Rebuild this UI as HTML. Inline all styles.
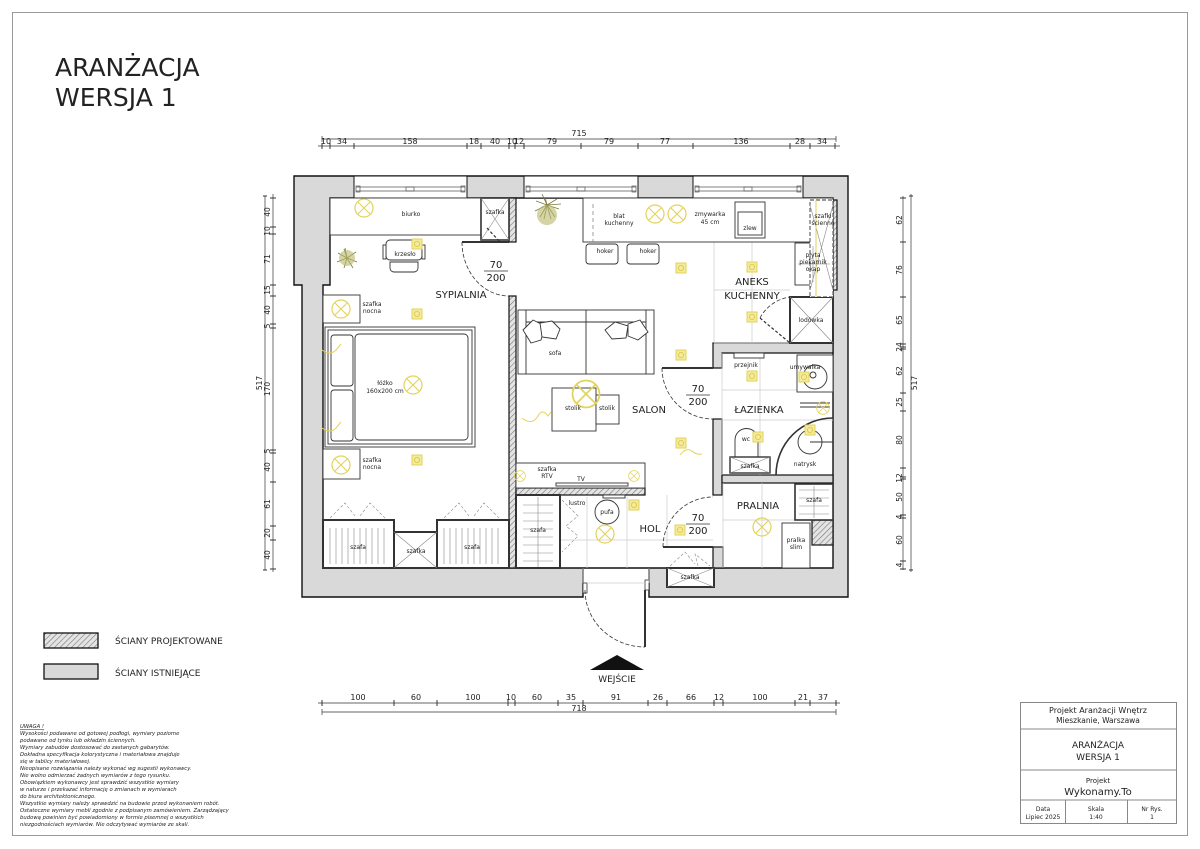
<!DOCTYPE html>
<html><head><meta charset="utf-8"><style>
html,body{margin:0;padding:0;background:#fff}
svg{display:block}
text{font-family:"DejaVu Sans","Liberation Sans",sans-serif;fill:#222}
</style></head><body>
<svg width="1200" height="849" viewBox="0 0 1200 849" xmlns="http://www.w3.org/2000/svg">
<defs>
<pattern id="h" width="4" height="4" patternUnits="userSpaceOnUse" patternTransform="rotate(45)">
<rect width="4" height="4" fill="#e4e4e4"/><line x1="0" y1="0" x2="0" y2="4" stroke="#777" stroke-width="1.2"/>
</pattern>
<g id="L"><circle r="9" fill="none" stroke="#e3d35a" stroke-width="1.2"/><path d="M-6.4,-6.4L6.4,6.4M-6.4,6.4L6.4,-6.4" stroke="#e3d35a" stroke-width="1.1"/></g>
<g id="S"><rect x="-5" y="-5" width="10" height="10" fill="#f3ea9c" stroke="#e3d35a"/><circle r="2.6" fill="none" stroke="#d8c848" stroke-width=".8"/></g>
</defs>
<rect x="12.5" y="12.5" width="1175" height="823" fill="none" stroke="#999" stroke-width="1"/>
<text x="55" y="76" font-size="25">ARANŻACJA</text>
<text x="55" y="106" font-size="25">WERSJA 1</text>

<!-- top dims -->
<g stroke="#333" stroke-width=".7">
<line x1="322" y1="139" x2="836" y2="139"/><line x1="318" y1="146" x2="840" y2="146"/>
<line x1="322" y1="136" x2="322" y2="142"/><line x1="836" y1="136" x2="836" y2="142"/>
</g>
<g stroke="#333" stroke-width="1">
<path d="M322,143v6M330,143v6M354,143v6M467,143v6M481,143v6M509,143v6M515,143v6M524,143v6M581,143v6M638,143v6M693,143v6M790,143v6M810,143v6M835,143v6"/>
</g>
<g font-size="8" text-anchor="middle">
<text x="579" y="136">715</text>
<text x="326" y="144">10</text><text x="342" y="144">34</text><text x="410" y="144">158</text><text x="474" y="144">18</text><text x="495" y="144">40</text><text x="512" y="144">10</text><text x="519" y="144">12</text><text x="552" y="144">79</text><text x="609" y="144">79</text><text x="665" y="144">77</text><text x="741" y="144">136</text><text x="800" y="144">28</text><text x="822" y="144">34</text>
</g>

<!-- left dims -->
<g stroke="#333" stroke-width=".7"><line x1="265" y1="196" x2="265" y2="570"/><line x1="273" y1="194" x2="273" y2="572"/></g>
<g stroke="#333" stroke-width="1"><path d="M263,196h4M263,570h4M270,198h6M270,227h6M270,234h6M270,285h6M270,296h6M270,324h6M270,328h6M270,450h6M270,453h6M270,482h6M270,526h6M270,540h6M270,569h6"/></g>
<g font-size="7.5" text-anchor="middle">
<text transform="translate(262,383) rotate(-90)">517</text>
<text transform="translate(270,212) rotate(-90)">40</text><text transform="translate(270,231) rotate(-90)">10</text><text transform="translate(270,259) rotate(-90)">71</text><text transform="translate(270,290) rotate(-90)">15</text><text transform="translate(270,310) rotate(-90)">40</text><text transform="translate(270,326) rotate(-90)">5</text><text transform="translate(270,389) rotate(-90)">170</text><text transform="translate(270,451) rotate(-90)">5</text><text transform="translate(270,467) rotate(-90)">40</text><text transform="translate(270,504) rotate(-90)">61</text><text transform="translate(270,533) rotate(-90)">20</text><text transform="translate(270,555) rotate(-90)">40</text>
</g>

<!-- right dims -->
<g stroke="#333" stroke-width=".7"><line x1="903" y1="196" x2="903" y2="570"/><line x1="911" y1="194" x2="911" y2="572"/></g>
<g stroke="#333" stroke-width="1"><path d="M909,196h4M909,570h4M900,198h6M900,242h6M900,297h6M900,344h6M900,347h6M900,349h6M900,393h6M900,411h6M900,468h6M900,477h6M900,479h6M900,515h6M900,518h6M900,561h6M900,569h6"/></g>
<g font-size="7.5" text-anchor="middle">
<text transform="translate(917,383) rotate(-90)">517</text>
<text transform="translate(902,220) rotate(-90)">62</text><text transform="translate(902,270) rotate(-90)">76</text><text transform="translate(902,320) rotate(-90)">65</text><text transform="translate(902,347) rotate(-90)">24</text><text transform="translate(902,371) rotate(-90)">62</text><text transform="translate(902,402) rotate(-90)">25</text><text transform="translate(902,440) rotate(-90)">80</text><text transform="translate(902,478) rotate(-90)">12</text><text transform="translate(902,497) rotate(-90)">50</text><text transform="translate(902,517) rotate(-90)">4</text><text transform="translate(902,540) rotate(-90)">60</text><text transform="translate(902,565) rotate(-90)">4</text>
</g>

<!-- bottom dims -->
<g stroke="#333" stroke-width=".7"><line x1="318" y1="703" x2="840" y2="703"/><line x1="322" y1="712" x2="836" y2="712"/><path d="M322,709v6M836,709v6"/></g>
<g stroke="#333" stroke-width="1"><path d="M322,700v6M394,700v6M437,700v6M508,700v6M515,700v6M558,700v6M583,700v6M648,700v6M667,700v6M714,700v6M723,700v6M795,700v6M810,700v6M836,700v6"/></g>
<g font-size="8" text-anchor="middle">
<text x="358" y="700">100</text><text x="416" y="700">60</text><text x="473" y="700">100</text><text x="511" y="700">10</text><text x="537" y="700">60</text><text x="571" y="700">35</text><text x="616" y="700">91</text><text x="658" y="700">26</text><text x="691" y="700">66</text><text x="719" y="700">12</text><text x="760" y="700">100</text><text x="803" y="700">21</text><text x="823" y="700">37</text>
<text x="579" y="711">718</text>
</g>

<!-- existing walls -->
<path fill-rule="evenodd" fill="#d9d9d9" stroke="#111" stroke-width="1.4"
 d="M294,176H848V597H649V568H583V597H302V285H294Z M330,198H833V568H323V285H330Z"/>
<!-- windows -->
<g stroke="#111" stroke-width="1" fill="#fff">
<rect x="354" y="176" width="113" height="22"/><rect x="524" y="176" width="114" height="22"/><rect x="693" y="176" width="110" height="22"/>
</g>
<g stroke="#555" stroke-width=".7" fill="none">
<path d="M356,187h109M356,191h109M526,187h110M526,191h110M695,187h106M695,191h106"/>
<rect x="356" y="186" width="4" height="6"/><rect x="461" y="186" width="4" height="6"/><rect x="526" y="186" width="4" height="6"/><rect x="632" y="186" width="4" height="6"/><rect x="695" y="186" width="4" height="6"/><rect x="797" y="186" width="4" height="6"/>
<rect x="406" y="187" width="8" height="4"/><rect x="577" y="187" width="8" height="4"/><rect x="744" y="187" width="8" height="4"/>
</g>
<!-- bathroom walls (existing) -->
<g fill="#d9d9d9" stroke="#111" stroke-width="1.2">
<path d="M713,343H833V353H722V368H713Z"/>
<rect x="713" y="419" width="9" height="76"/>
<rect x="722" y="475" width="111" height="8"/>
<rect x="713" y="547" width="10" height="21"/>
</g>
<!-- projected walls -->
<g fill="url(#h)" stroke="#111" stroke-width="1.2">
<rect x="509" y="296" width="7" height="272"/>
<rect x="509" y="198" width="7" height="44"/>
<rect x="516" y="488" width="129" height="7"/>
<rect x="812" y="520" width="21" height="25"/>
<rect x="833" y="200" width="4" height="90"/>
</g>

<!-- entrance door -->
<g fill="none" stroke="#333" stroke-width=".8">
<rect x="583" y="583" width="4" height="10" fill="#fff"/>
<rect x="645" y="580" width="4" height="10" fill="#fff"/>
<line x1="645" y1="590" x2="645" y2="647" stroke-width="2"/>
<path d="M585,590 A60,57 0 0 0 645,647" stroke-dasharray="4,2"/>
</g>
<path d="M590,670 L617,655 L644,670Z" fill="#111"/>
<text x="617" y="682" font-size="9" text-anchor="middle">WEJŚCIE</text>

<!-- tiles -->
<g stroke="#ccc" stroke-width=".7" fill="none">
<path d="M714,242V343M752,242V343M714,290H790M714,343H790"/>
<path d="M722,353V475M760,353V475M722,390H797M722,420H833"/>
<path d="M560,495V568M587,497V568M627,497V568M667,495V547M560,540H713M583,568V583M649,568V583M587,583H645"/>
<path d="M723,483V568M762,483V568M723,520H812"/>
</g>

<!-- bedroom furniture -->
<g fill="#fff" stroke="#333" stroke-width=".9">
<rect x="330" y="198" width="175" height="37"/>
<rect x="481" y="198" width="28" height="42" stroke-width="1.6"/>
<rect x="323" y="295" width="37" height="28"/>
<rect x="323" y="449" width="37" height="30"/>
<rect x="325" y="327" width="150" height="120"/>
<rect x="328" y="330" width="144" height="114"/>
<rect x="355" y="334" width="113" height="106" rx="4"/>
<rect x="331" y="335" width="22" height="51" rx="3"/><rect x="331" y="390" width="22" height="51" rx="3"/>
<rect x="323" y="520" width="71" height="48" stroke-width="2"/>
<rect x="394" y="532" width="43" height="36" stroke-width="2"/>
<rect x="437" y="520" width="72" height="48" stroke-width="2"/>
<rect x="516" y="495" width="44" height="73" stroke-width="2"/>
<rect x="667" y="568" width="47" height="19" stroke-width="2"/>
</g>
<g stroke="#888" stroke-width=".6" fill="none">
<path d="M481,198L509,240M509,198L481,240M394,532L437,568M437,532L394,568M667,568L714,587M714,568L667,587"/>
<path d="M330,528v36M336,528v36M342,528v36M348,528v36M354,528v36M360,528v36M366,528v36M372,528v36M378,528v36M384,528v36M444,528v36M450,528v36M456,528v36M462,528v36M468,528v36M474,528v36M480,528v36M486,528v36M492,528v36M498,528v36"/>
<path d="M523,505h30M523,513h30M523,521h30M523,529h30M523,537h30M523,545h30M523,553h30M523,561h30M538,497v70"/>
<path d="M330,518l15,-15l10,13M360,516l10,-13l15,15M444,518l15,-15l10,13M474,516l10,-13l15,15M562,500l16,16l-12,10l12,10l-16,16M670,566l15,-14l10,12M698,566l-3,-12l15,12" stroke-dasharray="3,2"/>
</g>
<!-- chair -->
<g fill="#fff" stroke="#333" stroke-width=".9">
<rect x="386" y="240" width="36" height="20" rx="4"/><rect x="383" y="245" width="3" height="14"/><rect x="422" y="245" width="3" height="14"/>
<path d="M390,262h28v6a4,4 0 0 1 -4,4h-20a4,4 0 0 1 -4,-4z"/>
</g>
<!-- plants -->
<g stroke="#7a7a3a" stroke-width=".8" fill="none">
<path d="M547,205l-2,-8M547,205l10,-6M547,205l12,4M547,205l8,12M547,205l-3,14M547,205l-12,6M547,205l-11,-4M547,205l-5,-11M547,205l14,-1M547,205l-7,12M547,205l4,14"/>
<path d="M347,258l-2,-10M347,258l9,-6M347,258l10,4M347,258l6,10M347,258l-3,10M347,258l-10,4M347,258l-9,-5M347,258l-3,-9"/>
</g>
<circle cx="547" cy="215" r="10" fill="#b7b86a" opacity=".6"/>
<circle cx="347" cy="258" r="8" fill="#b7b86a" opacity=".6"/>

<!-- salon furniture -->
<g fill="#fff" stroke="#333" stroke-width=".9">
<rect x="518" y="310" width="136" height="64"/>
<path d="M526,310v64M646,310v64M526,322h120M586,310v64"/>
<rect x="552" y="388" width="44" height="43"/><rect x="596" y="395" width="23" height="29"/>
<rect x="516" y="463" width="129" height="25"/>
<rect x="556" y="483" width="72" height="3"/>
<rect x="603" y="495" width="22" height="3"/>
<circle cx="607" cy="512" r="12"/>
</g>
<g fill="#fff" stroke="#333" stroke-width=".9">
<path d="M523,330l10,-10l12,6l-4,14l-10,3z"/><path d="M540,323l12,-2l8,8l-4,10l-14,-2z"/>
<path d="M628,324l12,-4l8,12l-10,8l-10,-4z"/><path d="M605,330l10,-8l13,4l-2,12l-14,1z"/>
</g>
<!-- kitchen -->
<g fill="#fff" stroke="#333" stroke-width=".9">
<rect x="583" y="198" width="250" height="44"/>
<rect x="735" y="202" width="30" height="36"/><rect x="738" y="212" width="24" height="23"/>
<rect x="586" y="244" width="32" height="20" rx="3"/><rect x="627" y="244" width="32" height="20" rx="3"/>
<rect x="795" y="243" width="37" height="42"/>
<rect x="790" y="297" width="43" height="46" stroke-width="2"/>
<rect x="810" y="200" width="23" height="97" stroke-dasharray="4,2"/>
</g>
<path d="M593,204V242" stroke="#777" stroke-dasharray="4,3" stroke-width=".7"/>
<g stroke="#888" stroke-width=".6" fill="none">
<path d="M790,297L833,343M833,297L790,343M810,205L833,290M833,205L810,290M798,264h32M813,246v36"/>
</g>
<line x1="816" y1="200" x2="816" y2="297" stroke="#e3d35a" stroke-width="1"/>
<!-- bathroom fixtures -->
<g fill="#fff" stroke="#333" stroke-width=".9">
<rect x="797" y="355" width="36" height="37"/><circle cx="815" cy="377" r="12"/><circle cx="813" cy="375" r="3"/>
<rect x="734" y="353" width="30" height="5"/>
<path d="M735,470V440a11,11 0 0 1 23,0V470z"/>
<rect x="730" y="457" width="40" height="16" stroke-width="1.4"/>
<circle cx="810" cy="442" r="12"/>
</g>
<path d="M833,418A57,57 0 0 0 776,475" fill="none" stroke="#333" stroke-width="1.6"/>
<g stroke="#333" fill="none" stroke-width=".9"><path d="M810,442h23M800,403h30M800,407h30"/></g>
<g stroke="#888" stroke-width=".6"><path d="M730,457L770,473M770,457L730,473"/></g>
<!-- pralnia -->
<g fill="#fff" stroke="#333" stroke-width=".9">
<rect x="795" y="484" width="38" height="36" stroke-width="1.6"/>
<rect x="782" y="523" width="28" height="45"/>
</g>
<g stroke="#888" stroke-width=".6"><path d="M799,490h30M799,498h30M799,506h30M799,514h30M814,486v32"/></g>

<!-- doors -->
<g fill="none" stroke="#333">
<line x1="462" y1="242" x2="509" y2="242" stroke-width="2"/>
<path d="M462,242A47,54 0 0 0 509,296" stroke-dasharray="4,2" stroke-width=".8"/>
<path d="M487,228L500,242" stroke-dasharray="3,2" stroke-width="1.2"/>
<line x1="662" y1="368" x2="713" y2="368" stroke-width="2"/>
<path d="M662,368A51,51 0 0 0 713,419" stroke-dasharray="4,2" stroke-width=".8"/>
<line x1="663" y1="547" x2="713" y2="547" stroke-width="2"/>
<path d="M663,547A50,50 0 0 1 713,497" stroke-dasharray="4,2" stroke-width=".8"/>
<path d="M760,318A40,40 0 0 1 790,297" stroke-dasharray="4,2" stroke-width=".8"/>
<path d="M760,318L790,343" stroke-dasharray="3,2" stroke-width="1.2"/>
</g>

<!-- lights -->
<use href="#L" x="364" y="208"/><use href="#L" x="655" y="214"/><use href="#L" x="677" y="214"/>
<use href="#L" x="341" y="309"/><use href="#L" x="341" y="465"/><use href="#L" x="413" y="385"/>
<use href="#L" x="586" y="394" transform="translate(586,394) scale(1.5) translate(-586,-394)"/>
<use href="#L" x="605" y="534"/><use href="#L" x="762" y="527"/>
<use href="#L" x="520" y="476" transform="translate(520,476) scale(.6) translate(-520,-476)"/>
<use href="#L" x="634" y="476" transform="translate(634,476) scale(.6) translate(-634,-476)"/>
<use href="#L" x="823" y="408" transform="translate(823,408) scale(.7) translate(-823,-408)"/>
<use href="#S" x="417" y="244"/><use href="#S" x="417" y="314"/><use href="#S" x="417" y="460"/>
<use href="#S" x="681" y="268"/><use href="#S" x="681" y="355"/><use href="#S" x="681" y="443"/>
<use href="#S" x="752" y="267"/><use href="#S" x="752" y="317"/><use href="#S" x="752" y="376"/>
<use href="#S" x="758" y="437"/><use href="#S" x="810" y="430"/><use href="#S" x="804" y="377"/>
<use href="#S" x="634" y="505"/><use href="#S" x="680" y="530"/>
<g fill="none" stroke="#e3d35a" stroke-width="1"><path d="M522,418q10,8 16,-2q4,-8 10,0l3,-4M322,350q8,6 14,0l5,-6M322,428q8,6 14,0l5,-6M680,455q6,-8 12,-4q4,4 10,3"/></g>

<!-- labels -->
<g font-size="10" text-anchor="middle">
<text x="461" y="298">SYPIALNIA</text>
<text x="752" y="285">ANEKS</text><text x="752" y="299">KUCHENNY</text>
<text x="649" y="413">SALON</text>
<text x="759" y="413">ŁAZIENKA</text>
<text x="650" y="532">HOL</text>
<text x="758" y="509">PRALNIA</text>
<text x="496" y="268">70</text><text x="496" y="281">200</text><line x1="484" y1="271" x2="508" y2="271" stroke="#333" stroke-width=".7"/>
<text x="698" y="392">70</text><text x="698" y="405">200</text><line x1="686" y1="395" x2="710" y2="395" stroke="#333" stroke-width=".7"/>
<text x="698" y="521">70</text><text x="698" y="534">200</text><line x1="686" y1="524" x2="710" y2="524" stroke="#333" stroke-width=".7"/>
</g>
<g font-size="6" text-anchor="middle" fill="#333">
<text x="411" y="216">biurko</text><text x="495" y="214">szafka</text><text x="405" y="256">krzesło</text>
<text x="372" y="306">szafka</text><text x="372" y="313">nocna</text>
<text x="372" y="462">szafka</text><text x="372" y="469">nocna</text>
<text x="385" y="385">łóżko</text><text x="385" y="393">160x200 cm</text>
<text x="358" y="549">szafa</text><text x="416" y="553">szafka</text><text x="472" y="549">szafa</text>
<text x="555" y="355">sofa</text><text x="573" y="410">stolik</text><text x="607" y="410">stolik</text>
<text x="547" y="471">szafka</text><text x="547" y="478">RTV</text><text x="581" y="481">TV</text>
<text x="577" y="505">lustro</text><text x="607" y="514">pufa</text><text x="538" y="532">szafa</text>
<text x="619" y="218">blat</text><text x="619" y="225">kuchenny</text>
<text x="710" y="216">zmywarka</text><text x="710" y="224">45 cm</text><text x="750" y="230">zlew</text>
<text x="605" y="253">hoker</text><text x="648" y="253">hoker</text>
<text x="823" y="218">szafki</text><text x="823" y="225">ścienne</text>
<text x="813" y="257">płyta</text><text x="813" y="264">piekarnik</text><text x="813" y="271">okap</text>
<text x="811" y="322">lodówka</text>
<text x="746" y="367">przejnik</text><text x="805" y="369">umywalka</text>
<text x="746" y="441">wc</text><text x="750" y="468">szafka</text><text x="805" y="466">natrysk</text>
<text x="814" y="502">szafa</text><text x="796" y="542">pralka</text><text x="796" y="549">slim</text>
<text x="690" y="579">szafka</text>
</g>

<!-- legend -->
<rect x="44" y="633" width="54" height="15" fill="url(#h)" stroke="#111" stroke-width="1.3"/>
<rect x="44" y="664" width="54" height="15" fill="#d9d9d9" stroke="#111" stroke-width="1.3"/>
<text x="115" y="644" font-size="9">ŚCIANY PROJEKTOWANE</text>
<text x="115" y="676" font-size="9">ŚCIANY ISTNIEJĄCE</text>

<!-- notes -->
<g font-size="5.3" font-style="italic" fill="#333">
<text x="20" y="728" text-decoration="underline">UWAGA !</text>
<text x="20" y="735">Wysokości podawane od gotowej podłogi, wymiary poziome</text>
<text x="20" y="742">podawane od tynku lub okładzin ściennych.</text>
<text x="20" y="749">Wymiary zabudów dostosować do zastanych gabarytów.</text>
<text x="20" y="756">Dokładna specyfikacja kolorystyczna i materiałowa znajduje</text>
<text x="20" y="763">się w tablicy materiałowej.</text>
<text x="20" y="770">Nieopisane rozwiązania należy wykonać wg sugestii wykonawcy.</text>
<text x="20" y="777">Nie wolno odmierzać żadnych wymiarów z tego rysunku.</text>
<text x="20" y="784">Obowiązkiem wykonawcy jest sprawdzić wszystkie wymiary</text>
<text x="20" y="791">w naturze i przekazać informację o zmianach w wymiarach</text>
<text x="20" y="798">do biura architektonicznego.</text>
<text x="20" y="805">Wszystkie wymiary należy sprawdzić na budowie przed wykonaniem robót.</text>
<text x="20" y="812">Ostateczne wymiary mebli zgodnie z podpisanym zamówieniem. Zarządzający</text>
<text x="20" y="819">budową powinien być powiadomiony w formie pisemnej o wszystkich</text>
<text x="20" y="826">niezgodnościach wymiarów. Nie odczytywać wymiarów ze skali.</text>
</g>

<!-- title block -->
<g fill="none" stroke="#888" stroke-width="1">
<rect x="1020.5" y="702.5" width="156" height="121"/>
<path d="M1020,729h157M1020,770h157M1020,800h157M1065.5,800v24M1127.5,800v24"/>
</g>
<g text-anchor="middle" fill="#333">
<text x="1098" y="713" font-size="8">Projekt Aranżacji Wnętrz</text>
<text x="1098" y="723" font-size="7.5">Mieszkanie, Warszawa</text>
<text x="1098" y="748" font-size="9">ARANŻACJA</text>
<text x="1098" y="760" font-size="9">WERSJA 1</text>
<text x="1098" y="783" font-size="7">Projekt</text>
<text x="1098" y="795" font-size="10">Wykonamy.To</text>
<text x="1043" y="811" font-size="6">Data</text><text x="1043" y="819" font-size="6">Lipiec 2025</text>
<text x="1096" y="811" font-size="6">Skala</text><text x="1096" y="819" font-size="6">1:40</text>
<text x="1152" y="811" font-size="6">Nr Rys.</text><text x="1152" y="819" font-size="6">1</text>
</g>
</svg>
</body></html>
